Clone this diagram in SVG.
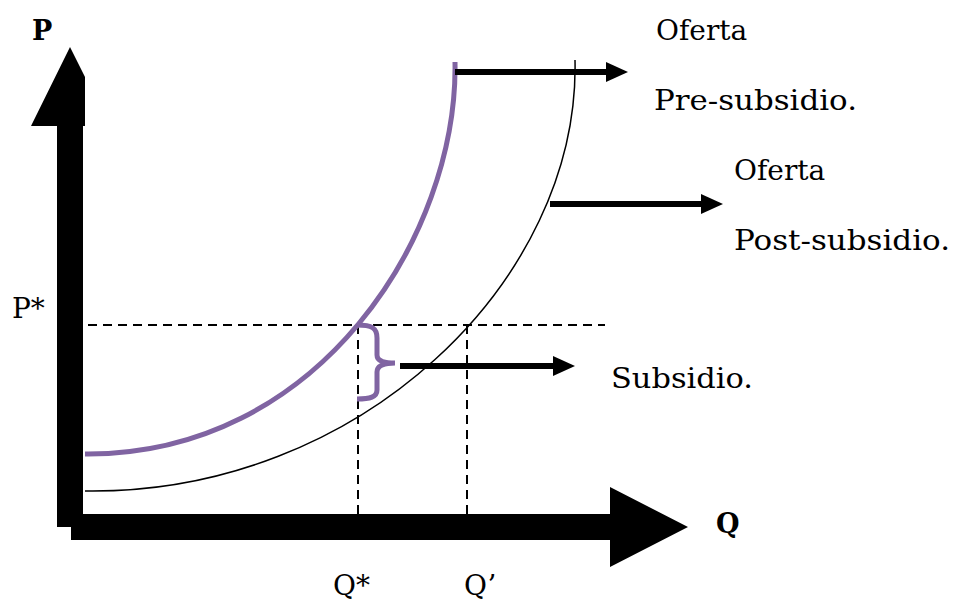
<svg xmlns="http://www.w3.org/2000/svg" width="953" height="603" viewBox="0 0 953 603">
<style>
.lbl{font-family:"DejaVu Serif","Liberation Serif",serif;font-size:28px;fill:#000}
.ax{font-family:"DejaVu Serif","Liberation Serif",serif;font-size:27px;font-weight:bold;fill:#000}
.dash{stroke:#000;stroke-width:2;stroke-dasharray:9,6;fill:none}
.arr{stroke:#000;stroke-width:6;fill:none}
</style>
<defs>
<marker id="ah" markerUnits="userSpaceOnUse" markerWidth="22" markerHeight="20" refX="0" refY="10" orient="auto" viewBox="0 0 22 20">
<path d="M0,0 L22,10 L0,20 Z" fill="#000"/>
</marker>
</defs>
<rect width="953" height="603" fill="#fff"/>
<g id="axes">
<polygon points="70,47 85,77 85,126 83,126 83,527 57,527 57,126 31,126" fill="#000"/>
<polygon points="71,514 610,514 610,487 688,527 610,567 610,540 71,540" fill="#000"/>
<text class="ax" x="32" y="40">P</text>
<text class="ax" x="716" y="533">Q</text>
</g>
<g id="guides">
<line class="dash" x1="88" y1="325" x2="605" y2="325"/>
<line class="dash" x1="358" y1="325" x2="358" y2="514"/>
<line class="dash" x1="467" y1="325" x2="467" y2="514"/>
</g>
<g id="oferta-post">
<path d="M85,491 C360,495 580,280 575,60" fill="none" stroke="#000" stroke-width="1.5"/>
</g>
<g id="oferta-pre">
<path d="M85,454 C318,456 458,236 455,62" fill="none" stroke="#8064A2" stroke-width="5"/>
</g>
<g id="subsidio-brace">
<path d="M357,325 C372,325 377,328 377,338 L377,355 C377,361 383,363 395,363 C383,363 377,366 377,372 L377,390 C377,397 370,399 357,399" fill="none" stroke="#8064A2" stroke-width="5"/>
</g>
<g id="connectors">
<line class="arr" x1="455" y1="72" x2="606" y2="72" marker-end="url(#ah)"/>
<line class="arr" x1="550" y1="204" x2="701" y2="204" marker-end="url(#ah)"/>
<line class="arr" x1="400" y1="366" x2="553" y2="366" marker-end="url(#ah)"/>
</g>
<g id="labels">
<text class="lbl" x="656" y="40">Oferta</text>
<text class="lbl" x="654" y="110" textLength="203" lengthAdjust="spacingAndGlyphs">Pre-subsidio.</text>
<text class="lbl" x="734" y="180">Oferta</text>
<text class="lbl" x="734" y="250" textLength="216" lengthAdjust="spacingAndGlyphs">Post-subsidio.</text>
<text class="lbl" x="611" y="388" textLength="142" lengthAdjust="spacingAndGlyphs">Subsidio.</text>
<text class="lbl" x="12" y="318">P*</text>
<text class="lbl" x="333" y="595">Q*</text>
<text class="lbl" x="464" y="595">Q’</text>
</g>
</svg>
